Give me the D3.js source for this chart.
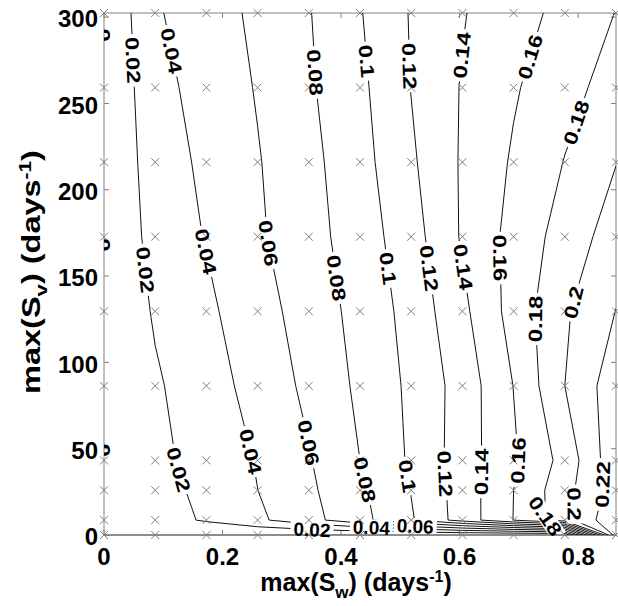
<!DOCTYPE html>
<html>
<head>
<meta charset="utf-8">
<script src="https://cdn.jsdelivr.net/npm/d3@7"></script>
<style>
  body { margin: 0; background: #fff; }
  svg { display: block; }
  text { font-family: "Liberation Sans", Arial, Helvetica, sans-serif; font-weight: bold; fill: #000; }
</style>
</head>
<body>
<svg id="chart" width="618" height="606"></svg>
<script>
// Sample points of the parameter sweep
const swGrid = [0, 0.0864, 0.1728, 0.2592, 0.3456, 0.432, 0.5184, 0.6048, 0.6912, 0.7776, 0.864];
const svGrid = [0, 8.64, 25.92, 43.2, 86.4, 129.6, 172.8, 216, 259.2, 302.4];

// Computed rate on the grid: one row per max(S_v) value, one column per max(S_w) value
const rateRows = [
  [0, 0,     0,     0,     0,     0,     0,     0,     0,     0,     0.234],
  [0, 0.0109, 0.0223, 0.0361, 0.0534, 0.0738, 0.0981, 0.1285, 0.1604, 0.192,  0.238],
  [0, 0.0122, 0.0253, 0.0399, 0.0564, 0.0763, 0.1006, 0.1288, 0.16,   0.1929, 0.2292],
  [0, 0.0146, 0.0281, 0.0412, 0.0586, 0.08,   0.1028, 0.1295, 0.1574, 0.1868, 0.2343],
  [0, 0.0174, 0.0317, 0.0469, 0.0645, 0.0838, 0.104,  0.1282, 0.1604, 0.2,    0.2319],
  [0, 0.0222, 0.0361, 0.0519, 0.0687, 0.0865, 0.1069, 0.1353, 0.1677, 0.1973, 0.2204],
  [0, 0.0272, 0.0411, 0.0571, 0.0727, 0.0898, 0.1116, 0.1422, 0.1666, 0.1883, 0.2096],
  [0, 0.0304, 0.0439, 0.0587, 0.0744, 0.0929, 0.117,  0.1422, 0.1624, 0.1807, 0.1995],
  [0, 0.0338, 0.0471, 0.0614, 0.0774, 0.0956, 0.1205, 0.1414, 0.1579, 0.1732, 0.1882],
  [0, 0.0379, 0.0504, 0.0642, 0.0789, 0.0988, 0.1214, 0.1388, 0.1521, 0.1657, 0.1805]
];

const levels = [0.02, 0.04, 0.06, 0.08, 0.1, 0.12, 0.14, 0.16, 0.18, 0.2, 0.22];

const xTicks = [0, 0.2, 0.4, 0.6, 0.8];
const xTickText = ["0", "0.2", "0.4", "0.6", "0.8"];
const yTicks = [0, 50, 100, 150, 200, 250, 300];

// Where each contour label sits: [level, max(S_w), max(S_v)]
const labelSpots = [
  [0.02, 0.047, 275], [0.02, 0.066, 153.5], [0.02, 0.123, 37.6], [0.02, 0.351, 3.5],
  [0.04, 0.106, 280], [0.04, 0.169, 164],   [0.04, 0.243, 48],   [0.04, 0.451, 3.5],
  [0.06, 0.277, 169], [0.06, 0.343, 53.3],  [0.06, 0.525, 3.5],
  [0.08, 0.356, 268], [0.08, 0.390, 148.8], [0.08, 0.439, 32],
  [0.1, 0.444, 274.5], [0.1, 0.483, 154.6], [0.1, 0.513, 34.2],
  [0.12, 0.508, 271.6], [0.12, 0.550, 154.6], [0.12, 0.570, 35.3],
  [0.14, 0.601, 278], [0.14, 0.604, 155.2], [0.14, 0.641, 36.5],
  [0.16, 0.721, 276.8], [0.16, 0.663, 160.4], [0.16, 0.704, 42.9],
  [0.18, 0.795, 239.2], [0.18, 0.721, 125.1], [0.18, 0.737, 11],
  [0.2, 0.791, 134.9], [0.2, 0.785, 18],
  [0.22, 0.851, 29.5]
];
// Labels of the zero level, which lies on the max(S_w) = 0 edge
const zeroEdgeSpots = [289.6, 168, 49.2];

const plot = { left: 104, right: 616, top: 13, bottom: 535 };
const x = d3.scaleLinear().domain([0, 0.864]).range([plot.left, plot.right]);
const y = d3.scaleLinear().domain([0, 302.4]).range([plot.bottom, plot.top]);

const svg = d3.select("#chart");
const defs = svg.append("defs");
defs.append("clipPath").attr("id", "plotClip")
  .append("rect")
  .attr("x", plot.left).attr("y", plot.top)
  .attr("width", plot.right - plot.left).attr("height", plot.bottom - plot.top);

const axisGray = "#808080";

// Axes box (drawn beneath the data)
const axisG = svg.append("g");
axisG.append("line").attr("x1", plot.left).attr("x2", plot.right).attr("y1", plot.top).attr("y2", plot.top)
  .attr("stroke", axisGray);
axisG.append("line").attr("x1", plot.left).attr("x2", plot.left).attr("y1", plot.top).attr("y2", plot.bottom)
  .attr("stroke", axisGray);
axisG.append("line").attr("x1", plot.right).attr("x2", plot.right).attr("y1", plot.top).attr("y2", plot.bottom)
  .attr("stroke", axisGray);
axisG.append("line").attr("x1", plot.left).attr("x2", plot.right).attr("y1", plot.bottom).attr("y2", plot.bottom)
  .attr("stroke", "#1a1a1a");

// Tick marks, pointing inward on all four sides
const tickLen = 5;
xTicks.forEach(v => {
  axisG.append("line").attr("x1", x(v)).attr("x2", x(v)).attr("y1", plot.bottom).attr("y2", plot.bottom - tickLen).attr("stroke", axisGray);
  axisG.append("line").attr("x1", x(v)).attr("x2", x(v)).attr("y1", plot.top).attr("y2", plot.top + tickLen).attr("stroke", axisGray);
});
yTicks.forEach(v => {
  axisG.append("line").attr("x1", plot.left).attr("x2", plot.left + tickLen).attr("y1", y(v)).attr("y2", y(v)).attr("stroke", axisGray);
  axisG.append("line").attr("x1", plot.right).attr("x2", plot.right - tickLen).attr("y1", y(v)).attr("y2", y(v)).attr("stroke", axisGray);
});

// Tick labels
const tickFont = 24;
xTicks.forEach((v, i) => {
  svg.append("text").attr("x", x(v)).attr("y", 565).attr("text-anchor", "middle")
    .style("font-size", tickFont + "px").text(xTickText[i]);
});
yTicks.forEach(v => {
  svg.append("text").attr("x", 98).attr("y", y(v) + tickFont * 0.36 + 1.5).attr("text-anchor", "end")
    .style("font-size", tickFont + "px").text(v);
});

// Axis titles
const xt = svg.append("text").attr("x", 356).attr("y", 591).attr("text-anchor", "middle").style("font-size", "25px");
xt.append("tspan").text("max(S");
xt.append("tspan").attr("dy", 7).style("font-size", "17px").text("w");
xt.append("tspan").attr("dy", -7).text(") (days");
xt.append("tspan").attr("dy", -9).style("font-size", "16px").text("-1");
xt.append("tspan").attr("dy", 9).text(")");

// Rotated text comes out elongated along its direction
const yt = svg.append("text").attr("transform", "translate(40,272) rotate(-90) scale(1.3,1)")
  .attr("text-anchor", "middle").style("font-size", "25px");
yt.append("tspan").text("max(S");
yt.append("tspan").attr("dy", 7).style("font-size", "17px").text("v");
yt.append("tspan").attr("dy", -7).text(") (days");
yt.append("tspan").attr("dy", -9).style("font-size", "16px").text("-1");
yt.append("tspan").attr("dy", 9).text(")");

// Contours: marching squares on the sample grid, mapped back to data space
const nx = swGrid.length, ny = svGrid.length;
const colToSw = d3.scaleLinear().domain(d3.range(nx)).range(swGrid);
const rowToSv = d3.scaleLinear().domain(d3.range(ny)).range(svGrid);
const project = ([u, v]) => [x(colToSw(u - 0.5)), y(rowToSv(v - 0.5))];

const bands = d3.contours().size([nx, ny]).thresholds(levels)(rateRows.flat());
const ringsByLevel = new Map();
bands.forEach(b => {
  const rings = b.coordinates.flat().map(r => r.map(project));
  ringsByLevel.set(b.value, rings);
});

const contourG = svg.append("g").attr("clip-path", "url(#plotClip)").attr("mask", "url(#labelGaps)");
const ringLine = d3.line().curve(d3.curveLinearClosed);
ringsByLevel.forEach(rings => {
  rings.forEach(r => {
    contourG.append("path").attr("d", ringLine(r))
      .attr("fill", "none").attr("stroke", "#111").attr("stroke-width", 1);
  });
});

// Grid sample markers
const markerG = svg.append("g");
svGrid.forEach(sv => {
  swGrid.forEach(sw => {
    const cx = x(sw), cy = y(sv), s = 4;
    markerG.append("path")
      .attr("d", `M${cx - s},${cy - s}L${cx + s},${cy + s}M${cx - s},${cy + s}L${cx + s},${cy - s}`)
      .attr("stroke", axisGray).attr("stroke-width", 1).attr("fill", "none");
  });
});

// Contour labels, placed on their line and turned along it
const inside = p => p[0] >= plot.left - 0.5 && p[0] <= plot.right + 0.5 && p[1] >= plot.top - 0.5 && p[1] <= plot.bottom + 0.5;

function nearestOnRings(rings, p) {
  let best = null;
  rings.forEach(ring => {
    const n = ring.length;
    for (let k = 0; k < n; k++) {
      const a = ring[k], b = ring[(k + 1) % n];
      if (!inside(a) || !inside(b)) continue;
      const dx = b[0] - a[0], dy = b[1] - a[1];
      const len2 = dx * dx + dy * dy || 1e-9;
      let t = ((p[0] - a[0]) * dx + (p[1] - a[1]) * dy) / len2;
      t = Math.max(0, Math.min(1, t));
      const q = [a[0] + t * dx, a[1] + t * dy];
      const d = Math.hypot(q[0] - p[0], q[1] - p[1]);
      if (!best || d < best.d) best = { d, ring, k, t, q };
    }
  });
  return best;
}

function walk(ring, k, t, dist, dir) {
  const n = ring.length;
  const a = ring[k], b = ring[(k + 1) % n];
  let pos = [a[0] + t * (b[0] - a[0]), a[1] + t * (b[1] - a[1])];
  let remaining = dist;
  let idx = dir > 0 ? (k + 1) % n : k;
  for (let guard = 0; guard < n; guard++) {
    const v = ring[idx];
    const seg = Math.hypot(v[0] - pos[0], v[1] - pos[1]);
    if (seg >= remaining) {
      const f = seg > 0 ? remaining / seg : 0;
      return [pos[0] + f * (v[0] - pos[0]), pos[1] + f * (v[1] - pos[1])];
    }
    remaining -= seg;
    pos = v;
    idx = (idx + dir + n) % n;
  }
  return pos;
}

const labelFont = 19;
const mask = defs.append("mask").attr("id", "labelGaps")
  .attr("maskUnits", "userSpaceOnUse").attr("x", 0).attr("y", 0).attr("width", 618).attr("height", 606);
mask.append("rect").attr("x", 0).attr("y", 0).attr("width", 618).attr("height", 606).attr("fill", "#fff");

const labelG = svg.append("g");
labelSpots.forEach(([lvl, sw, sv]) => {
  const key = levels.find(l => Math.abs(l - lvl) < 1e-9);
  const rings = ringsByLevel.get(key);
  if (!rings) return;
  const hit = nearestOnRings(rings, [x(sw), y(sv)]);
  if (!hit) return;
  const txt = labelG.append("text").attr("text-anchor", "middle")
    .style("font-size", labelFont + "px").text(String(lvl));
  const L0 = txt.node().getComputedTextLength();
  // first pass: direction from the plain length
  let A = walk(hit.ring, hit.k, hit.t, L0 / 2 + 2, 1);
  let B = walk(hit.ring, hit.k, hit.t, L0 / 2 + 2, -1);
  let ang = Math.atan2(A[1] - B[1], A[0] - B[0]);
  const stretch = 1 + 0.26 * Math.sin(ang) ** 2;
  const L = L0 * stretch;
  A = walk(hit.ring, hit.k, hit.t, L / 2 + 2, 1);
  B = walk(hit.ring, hit.k, hit.t, L / 2 + 2, -1);
  ang = Math.atan2(A[1] - B[1], A[0] - B[0]) * 180 / Math.PI;
  while (ang > 90) ang -= 180;
  while (ang <= -90) ang += 180;
  const [cx, cy] = hit.q;
  txt.attr("transform", `translate(${cx},${cy}) rotate(${ang}) scale(${stretch},1)`).attr("y", labelFont * 0.36);
  mask.append("rect")
    .attr("x", -L / 2 - 3).attr("y", -labelFont * 0.42)
    .attr("width", L + 6).attr("height", labelFont * 0.84)
    .attr("transform", `translate(${cx},${cy}) rotate(${ang})`)
    .attr("fill", "#000");
});

// Zero-level labels cut by the left edge of the axes
const edgeG = svg.append("g").attr("clip-path", "url(#plotClip)");
zeroEdgeSpots.forEach(sv => {
  edgeG.append("text").attr("text-anchor", "middle")
    .attr("transform", `translate(${x(0)},${y(sv)}) rotate(90) scale(1.26,1)`)
    .attr("y", labelFont * 0.36)
    .style("font-size", labelFont + "px").text("0");
});
</script>
</body>
</html>
